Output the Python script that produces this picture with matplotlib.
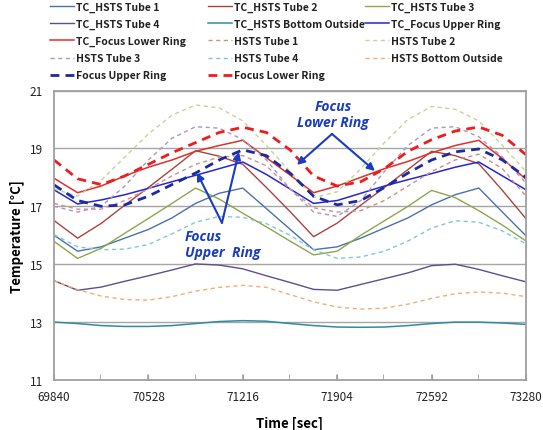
import matplotlib
matplotlib.use('Agg')
import matplotlib.pyplot as plt
from matplotlib.ticker import MultipleLocator

plt.rcParams['font.family'] = ['Noto Sans CJK KR', 'DejaVu Sans']

# ---------------- data ----------------
times = [69840, 70012, 70184, 70356, 70528, 70700, 70872, 71044, 71216, 71388, 71560,
         71732, 71904, 72076, 72248, 72420, 72592, 72764, 72936, 73108, 73280]
xticks = [69840, 70528, 71216, 71904, 72592, 73280]
yticks = [11, 13, 15, 17, 19, 21]

tc_tube1 = [16.0, 15.45, 15.6, 15.9, 16.2, 16.6, 17.1, 17.45, 17.63, 16.92, 16.21,
            15.5, 15.6, 15.9, 16.25, 16.6, 17.05, 17.4, 17.63, 16.8, 15.98]
tc_tube2 = [16.51, 15.9, 16.41, 17.04, 17.65, 18.28, 18.92, 18.73, 18.45, 17.65, 16.82,
            15.95, 16.42, 17.04, 17.65, 18.27, 18.9, 18.75, 18.47, 17.55, 16.57]
tc_tube3 = [15.79, 15.2, 15.55, 16.07, 16.58, 17.1, 17.63, 17.25, 16.76, 16.29, 15.8,
            15.32, 15.45, 16.0, 16.5, 17.0, 17.55, 17.3, 16.85, 16.35, 15.8]
tc_tube4 = [14.43, 14.1, 14.21, 14.41, 14.6, 14.8, 15.01, 14.97, 14.84, 14.6, 14.37,
            14.13, 14.1, 14.3, 14.5, 14.7, 14.95, 15.0, 14.82, 14.6, 14.39]
tc_bottom = [13.0, 12.95, 12.88, 12.85, 12.85, 12.88, 12.95, 13.02, 13.05, 13.03, 12.95,
             12.88, 12.83, 12.82, 12.83, 12.88, 12.95, 13.0, 13.0, 12.97, 12.92]
tc_upper = [17.57, 17.08, 17.22, 17.4, 17.62, 17.85, 18.07, 18.3, 18.53, 18.1, 17.6,
            17.1, 17.2, 17.45, 17.7, 17.92, 18.13, 18.35, 18.53, 18.05, 17.57]
tc_lower = [17.97, 17.47, 17.7, 18.05, 18.35, 18.6, 18.9, 19.1, 19.28, 18.68, 18.08,
            17.47, 17.7, 18.0, 18.3, 18.55, 18.85, 19.1, 19.28, 18.65, 17.93]
hsts_tube1 = [17.1, 16.9, 16.9, 17.2, 17.6, 18.05, 18.45, 18.7, 18.75, 18.4, 17.6,
              16.95, 16.8, 16.85, 17.2, 17.7, 18.2, 18.6, 18.8, 18.3, 17.35]
hsts_tube2 = [17.6, 17.35, 17.9, 18.7, 19.5, 20.15, 20.5, 20.4, 19.95, 19.1, 18.2,
              17.3, 17.5, 18.3, 19.2, 20.0, 20.45, 20.35, 19.95, 19.1, 18.2]
hsts_tube3 = [17.0, 16.8, 17.0, 17.7, 18.6, 19.35, 19.75, 19.7, 19.3, 18.6, 17.6,
              16.8, 16.65, 17.2, 18.2, 19.1, 19.7, 19.75, 19.4, 18.7, 17.8]
hsts_tube4 = [16.02, 15.6, 15.5, 15.52, 15.68, 16.05, 16.45, 16.65, 16.62, 16.4, 16.0,
              15.5, 15.2, 15.25, 15.45, 15.8, 16.25, 16.5, 16.45, 16.15, 15.7]
hsts_bottom = [14.43, 14.12, 13.9, 13.78, 13.76, 13.88, 14.07, 14.2, 14.27, 14.2, 13.95,
               13.7, 13.52, 13.45, 13.48, 13.62, 13.82, 13.98, 14.04, 14.0, 13.88]
focus_upper = [17.74, 17.2, 17.0, 17.05, 17.35, 17.75, 18.15, 18.6, 18.95, 18.75, 18.15,
               17.35, 17.05, 17.2, 17.65, 18.15, 18.6, 18.88, 18.98, 18.6, 18.0]
focus_lower = [18.6, 17.95, 17.75, 18.05, 18.45, 18.85, 19.2, 19.55, 19.73, 19.55, 18.95,
               18.05, 17.7, 17.85, 18.3, 18.9, 19.3, 19.6, 19.74, 19.45, 18.78]

# ---------------- figure ----------------
fig = plt.figure(figsize=(5.43, 4.31), dpi=100)
ax = fig.add_axes([54/543, 1-381/431, 472/543, (381-91.5)/431])

thin_dash = (0, (3, 2.5))
thick_dash = (0, (3.2, 2.2))
series = [
    ('TC_HSTS Tube 1', tc_tube1, '#4a72a8', '-', 1.0),
    ('TC_HSTS Tube 2', tc_tube2, '#a8443f', '-', 1.0),
    ('TC_HSTS Tube 3', tc_tube3, '#8fa64c', '-', 1.0),
    ('TC_HSTS Tube 4', tc_tube4, '#5e4f8c', '-', 1.0),
    ('TC_HSTS Bottom Outside', tc_bottom, '#2f8aa5', '-', 1.1),
    ('TC_Focus Upper Ring', tc_upper, '#2626d9', '-', 1.1),
    ('TC_Focus Lower Ring', tc_lower, '#e0302a', '-', 1.1),
    ('HSTS Tube 1', hsts_tube1, '#cf8f8d', thin_dash, 1.0),
    ('HSTS Tube 2', hsts_tube2, '#c2d698', thin_dash, 1.0),
    ('HSTS Tube 3', hsts_tube3, '#a898c4', thin_dash, 1.0),
    ('HSTS Tube 4', hsts_tube4, '#7fc6da', thin_dash, 1.0),
    ('HSTS Bottom Outside', hsts_bottom, '#f5ad74', thin_dash, 1.0),
    ('Focus Upper Ring', focus_upper, '#1c2a9e', thick_dash, 2.0),
    ('Focus Lower Ring', focus_lower, '#f01c1c', thick_dash, 2.0),
]

handles = []
for label, vals, color, ls, lw in series:
    ln, = ax.plot(times, vals, color=color, linestyle=ls, linewidth=lw, label=label)
    handles.append(ln)

ax.set_xlim(xticks[0], xticks[-1])
ax.set_ylim(yticks[0], yticks[-1])
ax.set_xticks(xticks)
ax.set_yticks(yticks)
ax.xaxis.set_minor_locator(MultipleLocator(344))
ax.tick_params(axis='x', which='both', direction='in', length=4, color='#a0a0a0',
               labelsize=8.5, pad=7, labelcolor='#222222')
ax.tick_params(axis='y', which='both', length=0, labelsize=8.5, pad=8, labelcolor='#222222')
ax.grid(axis='y', color='#a6a6a6', linewidth=1.0)
ax.set_axisbelow(True)
for sp in ax.spines.values():
    sp.set_color('#a0a0a0')
    sp.set_linewidth(1.3)

ax.set_xlabel('Time [sec]', fontsize=9.5, fontweight='bold', labelpad=9)
ax.set_ylabel('Temperature [°C]', fontsize=9.5, fontweight='bold', labelpad=4)

# annotations
acol = '#1a3cc0'
afont = dict(color=acol, fontsize=10, fontweight='bold', fontstyle='italic',
             family=['Open Sans', 'DejaVu Sans'])
ax.text(71873, 20.47, 'Focus', ha='center', va='center', **afont)
ax.text(71873, 19.91, 'Lower Ring', ha='center', va='center', **afont)
ax.text(70795, 15.98, 'Focus', ha='left', va='center', **afont)
ax.text(70795, 15.43, 'Upper  Ring', ha='left', va='center', **afont)
aprops = dict(arrowstyle='-|>', color=acol, lw=1.5, mutation_scale=11, shrinkA=0, shrinkB=0)
for tip in [(71611, 18.43), (72179, 18.22)]:
    ax.annotate('', xy=tip, xytext=(71866, 19.5), arrowprops=aprops)
for tip in [(70882, 18.16), (71188, 18.88)]:
    ax.annotate('', xy=tip, xytext=(71064, 16.43), arrowprops=aprops)

# legend in three columns (row-wise order as in the original)
col_x = [50, 208, 365]
for c in range(3):
    hs = handles[c::3]
    leg = fig.legend(handles=hs, labels=[h.get_label() for h in hs], loc='upper left',
                     bbox_to_anchor=(col_x[c]/543, 1-2.5/431), frameon=False, ncol=1,
                     fontsize=7.5, handlelength=2.3, handletextpad=0.2, labelspacing=0.68,
                     borderpad=0, borderaxespad=0)
    for t in leg.get_texts():
        t.set_fontweight('bold')
        t.set_color('#222222')

fig.savefig('out.png', dpi=100)
